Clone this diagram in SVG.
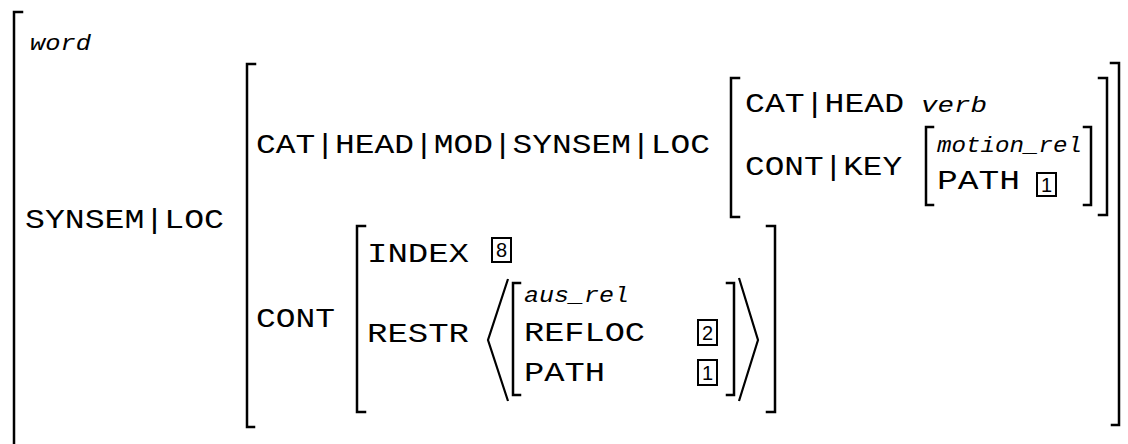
<svg xmlns="http://www.w3.org/2000/svg" width="1128" height="444" viewBox="0 0 1128 444">
<style>
.br{fill:none;stroke:#000;stroke-width:2.5;stroke-linecap:square}
.ang{fill:none;stroke:#000;stroke-width:2.2;stroke-linejoin:miter}
.box{fill:none;stroke:#000;stroke-width:2}
.f{font-family:"Liberation Mono","Courier New",monospace;font-size:28px;fill:#000}
.t{font-family:"Liberation Mono","Courier New",monospace;font-size:22px;font-style:italic;fill:#000}
.n{font-family:"Liberation Sans",Arial,sans-serif;font-size:20px;fill:#000;text-anchor:middle}
</style>
<rect width="1128" height="444" fill="#fff"/>

<g id="word-avm">
  <path class="br" d="M22,12 H14 V446"/>
  <text class="t" x="30" y="50" textLength="61" lengthAdjust="spacingAndGlyphs">word</text>
  <text class="f" x="25" y="228" textLength="199" lengthAdjust="spacingAndGlyphs">SYNSEM|LOC</text>
</g>

<g id="loc-avm">
  <path class="br" d="M255,64 H247 V427 H254"/>
  <path class="br" d="M1111,63 H1119 V425 H1112"/>
  <text class="f" x="256" y="153" textLength="454" lengthAdjust="spacingAndGlyphs">CAT|HEAD|MOD|SYNSEM|LOC</text>
  <text class="f" x="256" y="327" textLength="79" lengthAdjust="spacingAndGlyphs">CONT</text>
</g>

<g id="mod-avm">
  <path class="br" d="M739,78 H731 V217 H739"/>
  <path class="br" d="M1099,78 H1107 V215 H1099"/>
  <text class="f" x="745" y="112" textLength="159" lengthAdjust="spacingAndGlyphs">CAT|HEAD</text>
  <text class="t" x="921" y="112" textLength="66" lengthAdjust="spacingAndGlyphs">verb</text>
  <text class="f" x="745" y="175" textLength="157" lengthAdjust="spacingAndGlyphs">CONT|KEY</text>
</g>

<g id="motion-avm">
  <path class="br" d="M933,127 H926 V205 H933"/>
  <path class="br" d="M1084,127 H1091 V205 H1084"/>
  <text class="t" x="937" y="152" textLength="145" lengthAdjust="spacingAndGlyphs">motion_rel</text>
  <text class="f" x="937" y="189" textLength="83" lengthAdjust="spacingAndGlyphs">PATH</text>
  <rect class="box" x="1037" y="173" width="19" height="23"/>
  <text class="n" x="1046.5" y="192">1</text>
</g>

<g id="cont-avm">
  <path class="br" d="M365,226 H357 V412 H365"/>
  <path class="br" d="M767,226 H775 V412 H767"/>
  <text class="f" x="367" y="262" textLength="102" lengthAdjust="spacingAndGlyphs">INDEX</text>
  <rect class="box" x="492" y="238" width="19" height="24"/>
  <text class="n" x="501.5" y="257">8</text>
  <text class="f" x="367" y="342" textLength="102" lengthAdjust="spacingAndGlyphs">RESTR</text>
</g>

<g id="restr-list">
  <path class="ang" d="M508,279 L488,340 L508,401"/>
  <path class="ang" d="M739,278 L758,340 L739,401"/>
</g>

<g id="aus-avm">
  <path class="br" d="M520,283 H513 V395 H520"/>
  <path class="br" d="M727,283 H734 V395 H727"/>
  <text class="t" x="524" y="302" textLength="105" lengthAdjust="spacingAndGlyphs">aus_rel</text>
  <text class="f" x="524" y="341" textLength="121" lengthAdjust="spacingAndGlyphs">REFLOC</text>
  <rect class="box" x="698" y="320" width="19" height="25"/>
  <text class="n" x="707.5" y="340">2</text>
  <text class="f" x="524" y="381" textLength="81" lengthAdjust="spacingAndGlyphs">PATH</text>
  <rect class="box" x="698" y="360" width="19" height="25"/>
  <text class="n" x="707.5" y="380">1</text>
</g>
</svg>
